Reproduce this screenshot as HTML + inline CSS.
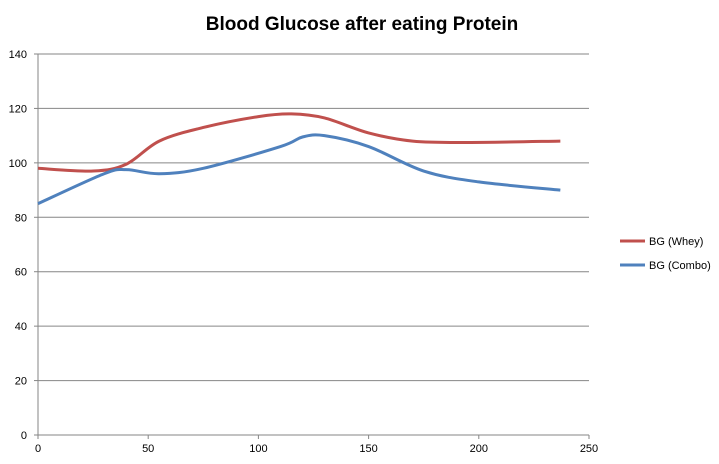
<!DOCTYPE html>
<html><head><meta charset="utf-8"><style>
body{margin:0;background:#fff;}
svg{display:block;font-family:"Liberation Sans",sans-serif;}
</style></head><body>
<svg id="chart" width="719" height="464">
<text x="362" y="30" text-anchor="middle" font-size="19" font-weight="bold" fill="#000">Blood Glucose after eating Protein</text>
<g id="grid"></g><g id="axes"></g><g id="series"></g>
<g>
<line x1="620" y1="241" x2="645" y2="241" stroke="#c0504d" stroke-width="3"/>
<text x="649" y="245" font-size="11" fill="#000">BG (Whey)</text>
<line x1="620" y1="265" x2="645" y2="265" stroke="#4f81bd" stroke-width="3"/>
<text x="649" y="269" font-size="11" fill="#000">BG (Combo)</text>
</g>
</svg>
<script>
const xTicks=[0,50,100,150,200,250];
const yTicks=[0,20,40,60,80,100,120,140];
const wheyX=[0,25,40,55,75,100,115,130,150,170,195,237];
const wheyY=[98,97,99.5,108,113,117,118,116.5,111,108,107.5,108];
const comboX=[0,30,40,55,75,110,120,130,150,175,200,237];
const comboY=[85,96,97.5,96,98,106,109.5,110,106,97,93,90];
const NS="http://www.w3.org/2000/svg";
const X0=38,X1=589,Y0=435,Y1=54;
const sx=v=>X0+(X1-X0)*v/250, sy=v=>Y0-(Y0-Y1)*v/140;
const grid=document.getElementById('grid'),axes=document.getElementById('axes'),ser=document.getElementById('series');
function mk(t,a,p){const e=document.createElementNS(NS,t);for(const k in a)e.setAttribute(k,a[k]);p.appendChild(e);return e;}
yTicks.forEach(v=>{
 const l=mk('line',{x1:X0,x2:X1,y1:sy(v),y2:sy(v),stroke:'#868686','stroke-width':1},grid);
 
 
 const tk=mk('line',{x1:X0-4,x2:X0,y1:sy(v),y2:sy(v),stroke:'#868686'},axes);
 
 
 const t=mk('text',{x:X0-11,y:sy(v)+4,'text-anchor':'end','font-size':11},axes);t.textContent=v;
 
 
});
xTicks.forEach(v=>{
 const tk=mk('line',{x1:sx(v),x2:sx(v),y1:Y0,y2:Y0+4,stroke:'#868686'},axes);
 
 
 const t=mk('text',{x:sx(v),y:Y0+17,'text-anchor':'middle','font-size':11},axes);t.textContent=v;
 
 
});
const ya=mk('line',{x1:X0,x2:X0,y1:Y1,y2:Y0,stroke:'#868686'},axes);


function path(xs,ys){
 const p=xs.map((x,i)=>[sx(x),sy(ys[i])]);let d='M'+p[0][0]+','+p[0][1];
 for(let i=0;i<p.length-1;i++){const a=p[i-1]||p[i],b=p[i],c=p[i+1],e=p[i+2]||c;
  d+=' C'+(b[0]+(c[0]-a[0])/6)+','+(b[1]+(c[1]-a[1])/6)+' '+(c[0]-(e[0]-b[0])/6)+','+(c[1]-(e[1]-b[1])/6)+' '+c[0]+','+c[1];}
 return d;}
const pw=mk('path',{d:path(wheyX,wheyY),fill:'none',stroke:'#c0504d','stroke-width':3},ser);


const pc=mk('path',{d:path(comboX,comboY),fill:'none',stroke:'#4f81bd','stroke-width':3},ser);


</script>
</body></html>
